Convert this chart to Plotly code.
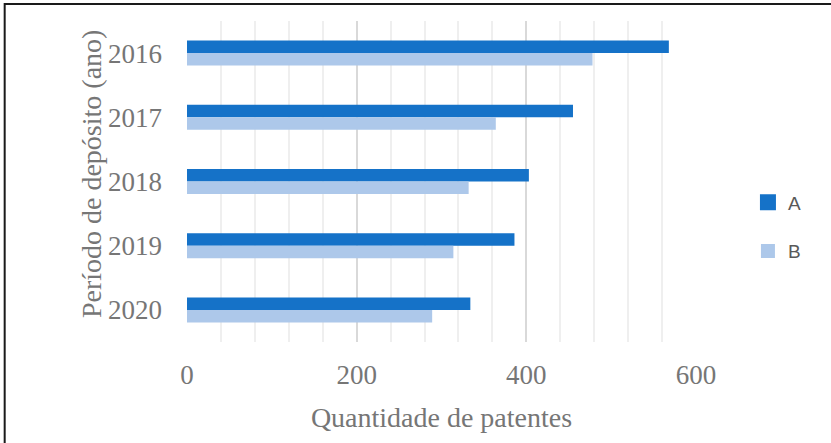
import plotly.graph_objects as go

# Patent filings per year, two groups
years = ["2016", "2017", "2018", "2019", "2020"]
serie_a = [568, 455, 403, 386, 334]
serie_b = [478, 364, 332, 314, 289]
x_ticks = [0, 200, 400, 600]

COR_A = "#1572C8"
COR_B = "#ADC8EA"
TXT = "#767676"
SERIF = "Liberation Serif, Times New Roman, serif"

W, H = 831, 443
ML, MR, MT, MB = 186.5, 135, 21, 101
PW, PH = W - ML - MR, H - MT - MB


def px_x(p):
    return (p - ML) / PW


def px_y(p):
    return (H - MB - p) / PH


fig = go.Figure()
for name, vals, cor, grp in (("A", serie_a, COR_A, "a"), ("B", serie_b, COR_B, "b")):
    fig.add_trace(go.Bar(name=name, y=years, x=vals, orientation="h",
                         marker=dict(color=cor, line=dict(width=0)),
                         legendgroup=grp, showlegend=False))

# legend entries with larger square swatches
for name, cor, grp, size in (("A", COR_A, "a", 16), ("B", COR_B, "b", 14)):
    fig.add_trace(go.Scatter(name=name, x=[None], y=[None], mode="markers",
                             marker=dict(symbol="square", color=cor, size=size),
                             legendgroup=grp, showlegend=True,
                             hoverinfo="skip"))

fig.update_layout(
    width=W, height=H,
    margin=dict(l=ML, r=MR, t=MT, b=MB, pad=0),
    paper_bgcolor="white", plot_bgcolor="white",
    barmode="group", bargap=0.61, bargroupgap=0,
    font=dict(family=SERIF, color=TXT),
    showlegend=True,
    legend=dict(x=px_x(748), y=px_y(227), xanchor="left", yanchor="middle",
                traceorder="grouped", tracegroupgap=21, itemwidth=30,
                font=dict(family="Liberation Sans, Arial, sans-serif",
                          size=19, color="#595959"),
                bgcolor="rgba(0,0,0,0)"),
    xaxis=dict(
        range=[0, 600], tickvals=x_ticks, ticktext=[str(v) for v in x_ticks],
        showgrid=True, gridcolor="#d9d9d9", gridwidth=1.5,
        minor=dict(dtick=40, showgrid=True, gridcolor="#efefef", gridwidth=1.5),
        zeroline=False, showline=False,
        ticks="outside", ticklen=9, tickcolor="rgba(0,0,0,0)",
        tickfont=dict(size=27, color=TXT, family=SERIF),
        title=dict(text="Quantidade de patentes", standoff=17,
                   font=dict(size=28, color=TXT, family=SERIF)),
        fixedrange=True,
    ),
    yaxis=dict(
        autorange="reversed", type="category",
        showgrid=False, zeroline=False, showline=False,
        ticks="", ticklabelstandoff=24,
        tickfont=dict(size=27, color=TXT, family=SERIF),
        fixedrange=True,
    ),
    annotations=[dict(
        text="Período de depósito (ano)", textangle=-90,
        xref="paper", yref="paper", x=px_x(91), y=px_y(173.5),
        xanchor="center", yanchor="middle", showarrow=False,
        font=dict(size=28, color=TXT, family=SERIF),
    )],
    shapes=[dict(
        type="rect", xref="paper", yref="paper",
        x0=px_x(4), x1=px_x(W + 20), y0=px_y(H + 20), y1=px_y(4),
        line=dict(color="#1a1a1a", width=2), fillcolor="rgba(0,0,0,0)",
        layer="above",
    )],
)

fig.write_html("out.html")
